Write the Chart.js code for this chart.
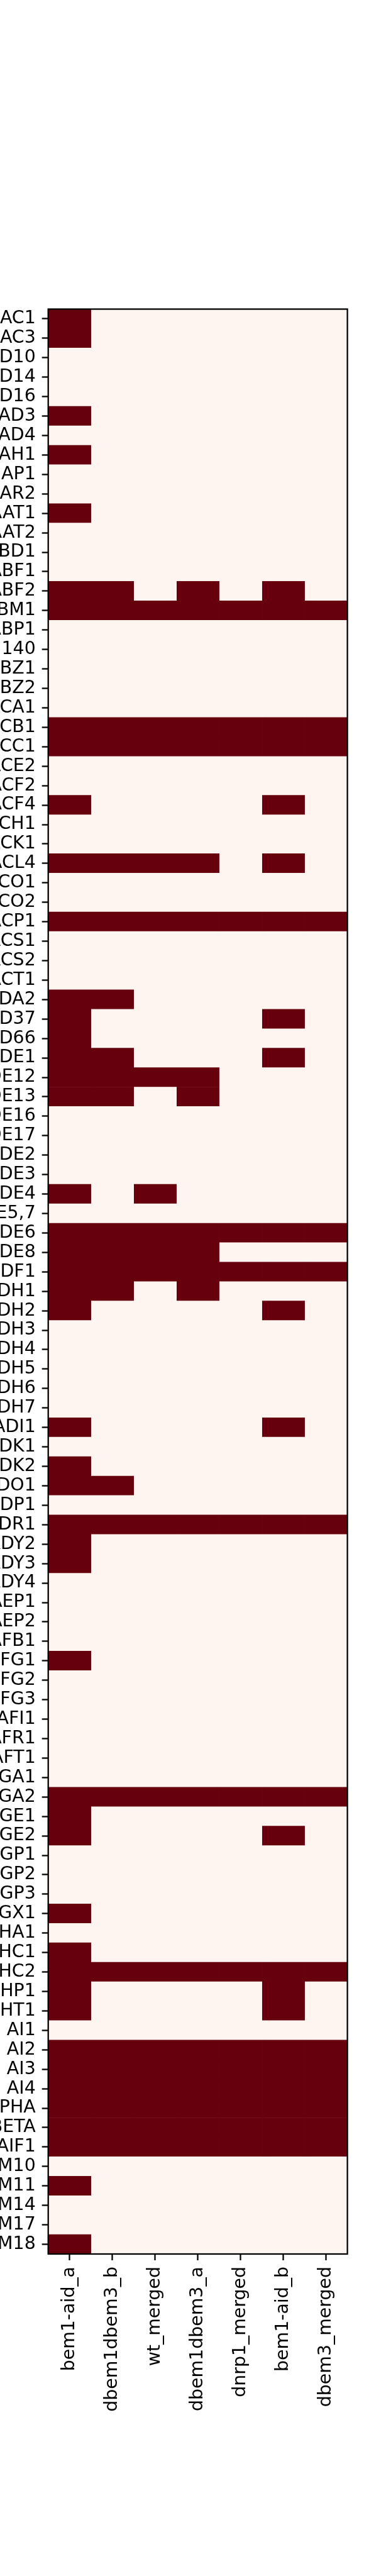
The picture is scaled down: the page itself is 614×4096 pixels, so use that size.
<!DOCTYPE html>
<html>
<head>
<meta charset="utf-8">
<script src="https://cdn.jsdelivr.net/npm/chart.js@4"></script>
<style>
  html, body { margin: 0; padding: 0; background: #fff; }
  #wrap { width: 614px; height: 4096px; position: relative; }
</style>
</head>
<body>
<div id="wrap"><canvas id="heat"></canvas></div>
<script>
// Samples (columns) and genes (rows), as labelled in the figure
const samples = ['bem1-aid_a', 'dbem1dbem3_b', 'wt_merged', 'dbem1dbem3_a', 'dnrp1_merged', 'bem1-aid_b', 'dbem3_merged'];

const genes = [
  'AC1', 'AC3', 'D10', 'D14', 'D16', 'AD3', 'AD4', 'AH1', 'AP1', 'AR2',
  'AAT1', 'AAT2', 'BD1', 'ABF1', 'ABF2', 'BM1', 'ABP1', '140', 'BZ1', 'BZ2',
  'CA1', 'CB1', 'CC1', 'ACE2', 'ACF2', 'ACF4', 'CH1', 'ACK1', 'ACL4', 'CO1',
  'CO2', 'ACP1', 'ACS1', 'ACS2', 'ACT1', 'DA2', 'D37', 'D66', 'DE1', 'DE12',
  'DE13', 'DE16', 'DE17', 'DE2', 'DE3', 'DE4', 'E5,7', 'DE6', 'DE8', 'ADF1',
  'DH1', 'DH2', 'DH3', 'DH4', 'DH5', 'DH6', 'DH7', 'ADI1', 'DK1', 'DK2',
  'DO1', 'DP1', 'DR1', 'ADY2', 'ADY3', 'ADY4', 'AEP1', 'AEP2', 'AFB1', 'FG1',
  'FG2', 'FG3', 'AFI1', 'AFR1', 'AFT1', 'GA1', 'GA2', 'GE1', 'GE2', 'GP1',
  'GP2', 'GP3', 'GX1', 'HA1', 'HC1', 'HC2', 'HP1', 'HT1', 'AI1', 'AI2',
  'AI3', 'AI4', 'PHA', 'BETA', 'AIF1', 'M10', 'M11', 'M14', 'M17', 'M18'
];

// 1 = gene present in that sample, 0 = absent (one array per column, rows top to bottom)
const bem1AidA = [
  1,1,0,0,0,1,0,1,0,0,
  1,0,0,0,1,1,0,0,0,0,
  0,1,1,0,0,1,0,0,1,0,
  0,1,0,0,0,1,1,1,1,1,
  1,0,0,0,0,1,0,1,1,1,
  1,1,0,0,0,0,0,1,0,1,
  1,0,1,1,1,0,0,0,0,1,
  0,0,0,0,0,0,1,1,1,0,
  0,0,1,0,1,1,1,1,0,1,
  1,1,1,1,1,0,1,0,0,1
];
const dbem1dbem3B = [
  0,0,0,0,0,0,0,0,0,0,
  0,0,0,0,1,1,0,0,0,0,
  0,1,1,0,0,0,0,0,1,0,
  0,1,0,0,0,1,0,0,1,1,
  1,0,0,0,0,0,0,1,1,1,
  1,0,0,0,0,0,0,0,0,0,
  1,0,1,0,0,0,0,0,0,0,
  0,0,0,0,0,0,1,0,0,0,
  0,0,0,0,0,1,0,0,0,1,
  1,1,1,1,1,0,0,0,0,0
];
const wtMerged = [
  0,0,0,0,0,0,0,0,0,0,
  0,0,0,0,0,1,0,0,0,0,
  0,1,1,0,0,0,0,0,1,0,
  0,1,0,0,0,0,0,0,0,1,
  0,0,0,0,0,1,0,1,1,1,
  0,0,0,0,0,0,0,0,0,0,
  0,0,1,0,0,0,0,0,0,0,
  0,0,0,0,0,0,1,0,0,0,
  0,0,0,0,0,1,0,0,0,1,
  1,1,1,1,1,0,0,0,0,0
];
const dbem1dbem3A = [
  0,0,0,0,0,0,0,0,0,0,
  0,0,0,0,1,1,0,0,0,0,
  0,1,1,0,0,0,0,0,1,0,
  0,1,0,0,0,0,0,0,0,1,
  1,0,0,0,0,0,0,1,1,1,
  1,0,0,0,0,0,0,0,0,0,
  0,0,1,0,0,0,0,0,0,0,
  0,0,0,0,0,0,1,0,0,0,
  0,0,0,0,0,1,0,0,0,1,
  1,1,1,1,1,0,0,0,0,0
];
const dnrp1Merged = [
  0,0,0,0,0,0,0,0,0,0,
  0,0,0,0,0,1,0,0,0,0,
  0,1,1,0,0,0,0,0,0,0,
  0,1,0,0,0,0,0,0,0,0,
  0,0,0,0,0,0,0,1,0,1,
  0,0,0,0,0,0,0,0,0,0,
  0,0,1,0,0,0,0,0,0,0,
  0,0,0,0,0,0,1,0,0,0,
  0,0,0,0,0,1,0,0,0,1,
  1,1,1,1,1,0,0,0,0,0
];
const bem1AidB = [
  0,0,0,0,0,0,0,0,0,0,
  0,0,0,0,1,1,0,0,0,0,
  0,1,1,0,0,1,0,0,1,0,
  0,1,0,0,0,0,1,0,1,0,
  0,0,0,0,0,0,0,1,0,1,
  0,1,0,0,0,0,0,1,0,0,
  0,0,1,0,0,0,0,0,0,0,
  0,0,0,0,0,0,1,0,1,0,
  0,0,0,0,0,1,1,1,0,1,
  1,1,1,1,1,0,0,0,0,0
];
const dbem3Merged = [
  0,0,0,0,0,0,0,0,0,0,
  0,0,0,0,0,1,0,0,0,0,
  0,1,1,0,0,0,0,0,0,0,
  0,1,0,0,0,0,0,0,0,0,
  0,0,0,0,0,0,0,1,0,1,
  0,0,0,0,0,0,0,0,0,0,
  0,0,1,0,0,0,0,0,0,0,
  0,0,0,0,0,0,1,0,0,0,
  0,0,0,0,0,1,0,0,0,1,
  1,1,1,1,1,0,0,0,0,0
];

const presence = [bem1AidA, dbem1dbem3B, wtMerged, dbem1dbem3A, dnrp1Merged, bem1AidB, dbem3Merged];

// Reds colormap ends
const DARK = '#67000d';
const LIGHT = '#fff5f0';

const FONT = { family: "'DejaVu Sans', sans-serif", size: 28.4 };

// axes box from the reference (scaled): left 76.7, right 552.6, top 491.5, bottom 3584
const frame = {
  id: 'frame',
  afterDraw(chart) {
    const { ctx, chartArea: a } = chart;
    ctx.save();
    ctx.strokeStyle = '#000';
    ctx.lineWidth = 2.3;
    ctx.strokeRect(a.left, a.top, a.right - a.left, a.bottom - a.top);
    ctx.restore();
  }
};

new Chart(document.getElementById('heat'), {
  type: 'bar',
  data: {
    labels: genes,
    datasets: samples.map((name, j) => ({
      label: name,
      // each cell spans one unit of the x scale; its colour carries the value
      data: presence[j].map(() => 1),
      backgroundColor: presence[j].map(v => v ? DARK : LIGHT),
      borderWidth: 0,
      barPercentage: 1,
      categoryPercentage: 1,
      stack: 'cells'
    }))
  },
  options: {
    indexAxis: 'y',
    animation: false,
    responsive: true,
    maintainAspectRatio: false,
    layout: { padding: { top: 491.5, right: 61.4, left: 0, bottom: 0 } },
    plugins: {
      legend: { display: false },
      tooltip: { enabled: false }
    },
    scales: {
      x: {
        type: 'linear',
        stacked: true,
        min: 0,
        max: samples.length,
        position: 'bottom',
        border: { display: false },
        grid: { drawOnChartArea: false, drawTicks: true, tickLength: 10, tickWidth: 2.3, tickColor: '#000' },
        ticks: {
          autoSkip: false,
          minRotation: 90,
          maxRotation: 90,
          padding: 10,
          color: '#000',
          font: FONT,
          callback: (v, i) => samples[i]
        },
        afterBuildTicks: s => { s.ticks = samples.map((_, i) => ({ value: i + 0.5 })); },
        afterFit: s => { s.height = 4096 - 3584; }
      },
      y: {
        type: 'category',
        stacked: true,
        offset: true,
        border: { display: false },
        grid: { offset: false, drawOnChartArea: false, drawTicks: true, tickLength: 10, tickWidth: 2.3, tickColor: '#000' },
        ticks: { autoSkip: false, padding: 10, color: '#000', font: FONT },
        afterFit: s => { s.width = 76.7; }
      }
    }
  },
  plugins: [frame]
});
</script>
</body>
</html>
